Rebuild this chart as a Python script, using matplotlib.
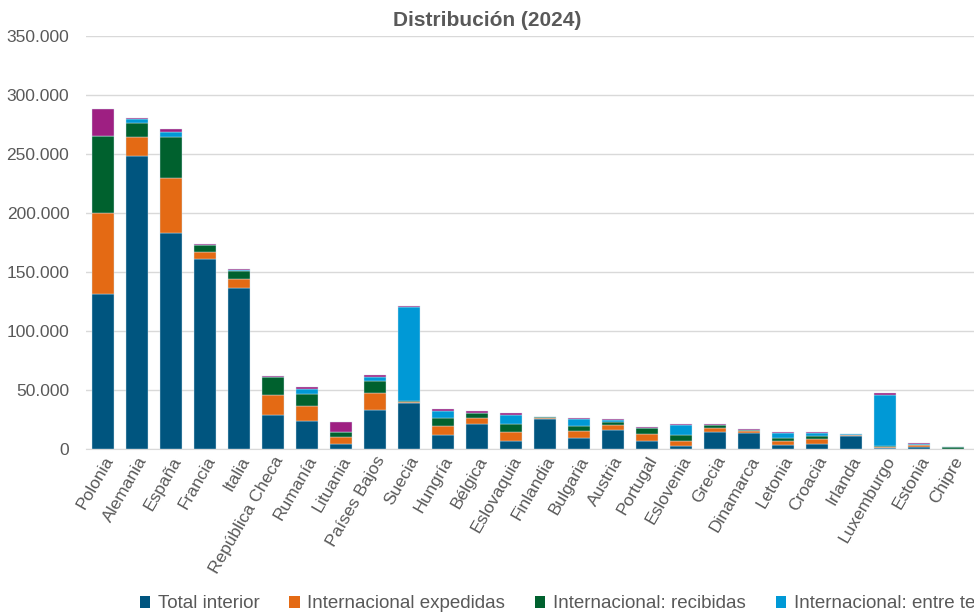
import matplotlib.pyplot as plt
import matplotlib.ticker as mticker
from matplotlib.patches import Patch
import numpy as np

plt.rcParams['font.family'] = ['Liberation Sans Narrow', 'Liberation Sans', 'DejaVu Sans']

#------------- data (vehículos, 2024) -------------#
paises = ['Polonia', 'Alemania', 'España', 'Francia', 'Italia', 'República Checa',
          'Rumanía', 'Lituania', 'Países Bajos', 'Suecia', 'Hungría', 'Bélgica',
          'Eslovaquia', 'Finlandia', 'Bulgaria', 'Austria', 'Portugal', 'Eslovenia',
          'Grecia', 'Dinamarca', 'Letonia', 'Croacia', 'Irlanda', 'Luxemburgo',
          'Estonia', 'Chipre']

total_interior = [131600, 248000, 182800, 160800, 136200, 28600, 23500, 4200, 33000, 39000,
                  12100, 20900, 7000, 25100, 9600, 16100, 7000, 2500, 14600, 13500,
                  3400, 4500, 10700, 500, 2000, 200]
int_expedidas = [68600, 16700, 46600, 5900, 7900, 17200, 13200, 5700, 14100, 900,
                 7300, 5100, 7300, 1200, 5600, 4000, 5600, 4500, 2900, 2000,
                 3400, 3700, 800, 900, 1000, 100]
int_recibidas = [65000, 11900, 34700, 5900, 7000, 15000, 10200, 4700, 10400, 800,
                 7000, 4200, 6500, 600, 3900, 2500, 5100, 4500, 2500, 800,
                 2500, 2800, 600, 800, 600, 1300]
int_terceros = [0, 2800, 4200, 300, 800, 0, 4000, 0, 3100, 79900,
                5900, 500, 8100, 0, 6400, 1900, 0, 8500, 0, 0,
                4000, 2300, 300, 43200, 600, 0]
cabotaje = [22600, 1100, 3000, 700, 700, 1400, 1700, 7900, 1700, 900,
            1400, 1700, 1400, 500, 1100, 800, 800, 1400, 800, 700,
            1100, 1100, 700, 1700, 500, 100]

series = [
    ('Total interior', total_interior, '#00557F'),
    ('Internacional expedidas', int_expedidas, '#E46A14'),
    ('Internacional: recibidas', int_recibidas, '#00612E'),
    ('Internacional: entre terceros países', int_terceros, '#0099D6'),
    ('Cabotaje', cabotaje, '#9E1F82'),
]

gris = '#595959'

#------------- figure -------------#
fig = plt.figure(figsize=(9.74, 6.15), dpi=100)
ax = fig.add_axes([86/974, 166/615, 888/974, 413/615])

x = np.arange(len(paises))
bottom = np.zeros(len(paises))
for nombre, vals, color in series:
    vals = np.array(vals, dtype=float)
    ax.bar(x, vals, bottom=bottom, width=0.665, color=color,
           edgecolor='#cfe3ee', linewidth=0.3, zorder=3)
    bottom += vals

ax.set_xlim(-0.5, 25.62)
ax.set_ylim(0, 350000)
ax.yaxis.set_major_locator(mticker.MultipleLocator(50000))
ax.yaxis.set_major_formatter(mticker.FuncFormatter(lambda v, p: f'{int(v):,}'.replace(',', '.')))
ax.grid(axis='y', color='#D9D9D9', linewidth=1, zorder=0)
for s in ['top', 'right', 'left']:
    ax.spines[s].set_visible(False)
ax.spines['bottom'].set_color('#D9D9D9')
ax.tick_params(axis='both', length=0, colors=gris, labelsize=12.5)
ax.tick_params(axis='y', pad=12)
ax.set_xticks(x)
ax.set_xticklabels(paises, rotation=60, ha='right', rotation_mode='anchor')

fig.text(487/974, 1 - 20/615, 'Distribución (2024)', ha='center', va='center',
         fontsize=15, fontweight='bold', color=gris)

# leyenda centrada bajo el gráfico original (queda recortada a la derecha)
handles = [Patch(facecolor=c, label=n) for n, _, c in series]
fig.legend(handles=handles, loc='center left', bbox_to_anchor=(123/974, 1 - 604/615),
           ncol=5, frameon=False, fontsize=13.5, labelcolor=gris,
           handlelength=0.55, handleheight=0.55, handletextpad=0.4, columnspacing=1.6)

fig.savefig('out.png', dpi=100)
